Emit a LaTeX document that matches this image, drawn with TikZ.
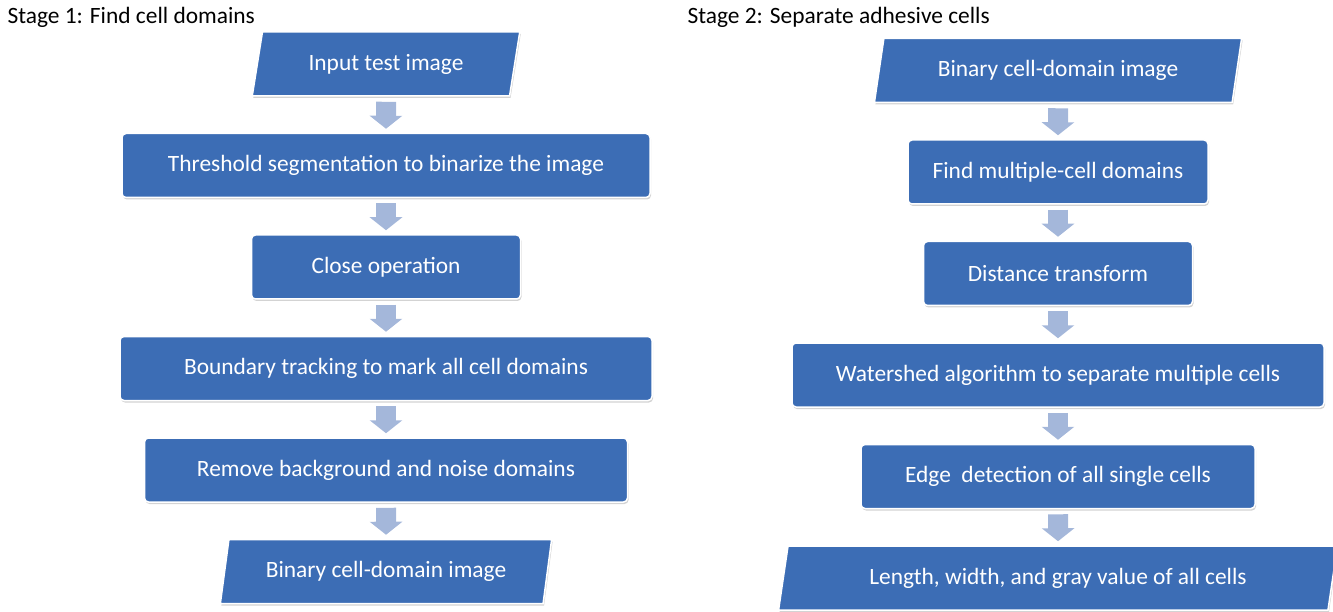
\documentclass[tikz,border=0pt]{standalone}
\usepackage{fontspec}
\setmainfont{Carlito}
\usepackage{tikz}
\usetikzlibrary{arrows.meta,positioning,shapes.geometric,shadows}
\definecolor{boxblue}{HTML}{3C6DB5}
\definecolor{flowblue}{HTML}{A4B7DA}
\tikzset{%
	process/.style  = {draw=white, line width=1.5pt, fill=boxblue, rectangle, rounded corners=4pt, minimum height=64pt, text=white, text centered, drop shadow={shadow xshift=1pt, shadow yshift=-2pt, opacity=0.35}},
	inout/.style    = {draw=white, line width=1.5pt, fill=boxblue, trapezium, trapezium left angle=76, trapezium right angle=104, trapezium stretches=true, minimum height=64pt, text=white, text centered, drop shadow={shadow xshift=1pt, shadow yshift=-2pt, opacity=0.35}},
	flow/.style     = {draw=flowblue, line width=20pt, -{Triangle[width=32pt,length=13pt]}, shorten <=5pt, shorten >=4pt},
	title/.style    = {anchor=west, text=black},
}

\begin{document}
\begin{tikzpicture}[x=1pt,y=-1pt,node distance=101.5pt,font=\fontsize{23.4}{28}\selectfont]
		\useasboundingbox (0,0) rectangle (1333,612);
		% stage 1
		\node [title] at (4,17) {Stage 1: Find cell domains};
		\node [inout, minimum width=268pt] (P1) at (386,64) {Input test image};
		\node [process, minimum width=528pt] (B1) [below of=P1] {Threshold segmentation to binarize the image};
		\node [process, minimum width=269pt] (B2) [below of=B1] {Close operation};
		\node [process, minimum width=532pt] (B3) [below of=B2] {Boundary tracking to mark all cell domains};
		\node [process, minimum width=483pt] (B4) [below of=B3] {Remove background and noise domains};
		\node [inout, minimum width=332pt] (P2) [below of=B4] {Binary cell-domain image};
		\draw[flow] (P1) -- (B1);
		\draw[flow] (B1) -- (B2);
		\draw[flow] (B2) -- (B3);
		\draw[flow] (B3) -- (B4);
		\draw[flow] (B4) -- (P2);
		
		% stage 2
		\node [title] at (684,17) {Stage 2: Separate adhesive cells};
		\node [inout, minimum width=368pt] (P3) at (1058,70.5) {Binary cell-domain image};
		\node [process, minimum width=300pt] (B5) [below of=P3] {Find multiple-cell domains};
		\node [process, minimum width=269pt] (B6) [below of=B5] {Distance transform};
		\node [process, minimum width=532pt] (B7) [below of=B6] {Watershed algorithm to separate multiple cells};
		\node [process, minimum width=394pt] (B8) [below of=B7] {Edge\ \ detection of all single cells};
		\node [inout, minimum width=562pt] (P4) [below of=B8] {Length, width, and gray value of all cells};
		\draw[flow] (P3) -- (B5);
		\draw[flow] (B5) -- (B6);
		\draw[flow] (B6) -- (B7);
		\draw[flow] (B7) -- (B8);
		\draw[flow] (B8) -- (P4);
\end{tikzpicture}
\end{document}
